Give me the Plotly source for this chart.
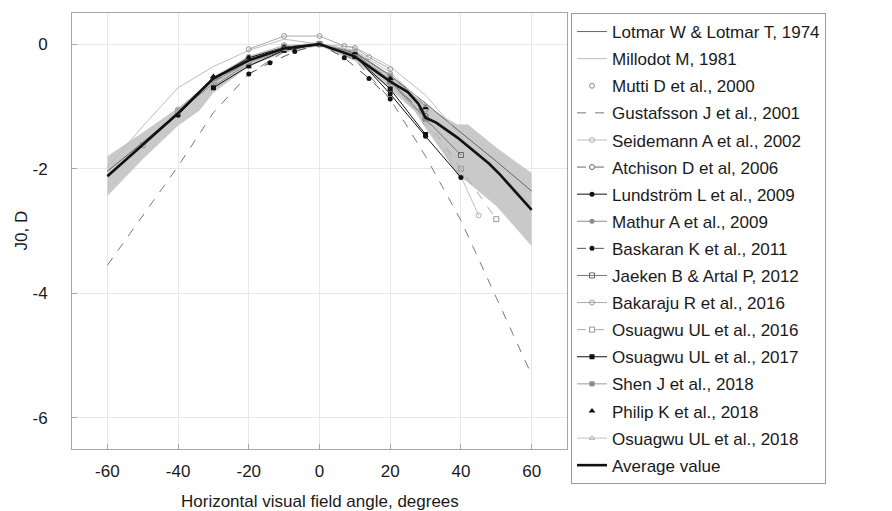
import plotly.graph_objects as go

# ---------------- data ----------------
band_x = [-60, -50, -40, -34, -30, -20, -10, 0, 10, 20, 27, 30, 35, 39, 42, 50, 60]
band_upper = [-1.80, -1.42, -1.02, -0.75, -0.52, -0.19, -0.02, 0.03, -0.14, -0.50, -0.86, -0.97, -1.16, -1.29, -1.29, -1.66, -2.07]
band_lower = [-2.44, -1.85, -1.31, -1.07, -0.78, -0.36, -0.14, -0.03, -0.27, -0.72, -1.08, -1.35, -1.75, -2.10, -2.22, -2.60, -3.24]

lotmar_x = [-60, -50, -40, -30, -20, -10, 0, 10, 20, 30, 40, 50, 60]
lotmar_y = [-2.04, -1.58, -1.10, -0.62, -0.27, -0.06, 0, -0.14, -0.50, -0.95, -1.42, -1.88, -2.36]

millodot_x = [-60, -50, -40, -30, -20, -10, 0, 10, 20, 30, 40, 50, 60]
millodot_y = [-1.98, -1.32, -0.70, -0.36, -0.10, 0.08, 0, -0.05, -0.36, -0.82, -1.48, -2.03, -2.57]

mutti_x = [-30, -20, -10, 0, 10, 20, 30]
mutti_y = [-0.58, -0.22, -0.02, 0, -0.12, -0.48, -1.05]

gustafsson_x = [-60, -50, -40, -30, -20, -10, 0, 10, 20, 30, 40, 50, 60]
gustafsson_y = [-3.55, -2.75, -1.96, -1.10, -0.48, -0.12, 0, -0.25, -0.88, -1.80, -2.83, -4.07, -5.31]

seidemann_x = [-40, -30, -20, -10, 0, 10, 20, 30, 40, 45]
seidemann_y = [-1.05, -0.55, -0.20, -0.02, 0, -0.20, -0.62, -1.26, -2.12, -2.75]

atchison_x = [-30, -20, -10, 0, 10, 20, 30]
atchison_y = [-0.60, -0.30, -0.08, 0, -0.18, -0.58, -1.15]

lundstrom_x = [-40, -30, -20, -10, 0, 10, 20, 30, 40]
lundstrom_y = [-1.14, -0.55, -0.22, -0.05, 0, -0.18, -0.80, -1.48, -2.14]

mathur_x = [-30, -20, -10, 0, 10, 20, 30]
mathur_y = [-0.68, -0.30, -0.10, 0, -0.12, -0.50, -1.00]

baskaran_x = [-20, -14, -7, 0, 7, 14, 20]
baskaran_y = [-0.48, -0.30, -0.12, 0, -0.22, -0.55, -0.88]

jaeken_x = [-40, -30, -20, -10, 0, 10, 20, 30, 40]
jaeken_y = [-1.08, -0.58, -0.25, -0.05, 0, -0.15, -0.60, -1.20, -1.78]

bakaraju_x = [-20, -10, 0, 7, 10, 14, 20]
bakaraju_y = [-0.08, 0.13, 0.13, -0.03, -0.06, -0.21, -0.40]

osuagwu16_x = [-50, -40, -30, -20, -10, 0, 10, 20, 30, 40, 50]
osuagwu16_y = [-1.62, -1.08, -0.60, -0.25, -0.05, 0, -0.18, -0.55, -1.20, -2.00, -2.81]

osuagwu17_x = [-30, -20, -10, 0, 10, 20, 30]
osuagwu17_y = [-0.70, -0.35, -0.10, 0, -0.20, -0.72, -1.45]

shen_x = [-30, -20, -10, 0, 10, 20, 30]
shen_y = [-0.62, -0.27, -0.06, 0, -0.16, -0.58, -1.19]

philip_x = [-30, -20, -10, 0, 10, 20, 30]
philip_y = [-0.52, -0.22, -0.05, 0, -0.14, -0.55, -1.02]

osuagwu18_x = [-40, -30, -20, -10, 0, 10, 20, 30]
osuagwu18_y = [-1.05, -0.62, -0.30, -0.08, 0, -0.10, -0.45, -0.98]

avg_x = [-60, -50, -40, -30, -20, -10, 0, 10, 20, 25, 28, 30, 33, 36, 39, 42, 45, 48, 51, 55, 60]
avg_y = [-2.12, -1.62, -1.11, -0.55, -0.26, -0.07, 0, -0.20, -0.60, -0.77, -0.96, -1.18, -1.26, -1.38, -1.50, -1.64, -1.78, -1.92, -2.09, -2.34, -2.66]

x_ticks = [-60, -40, -20, 0, 20, 40, 60]
y_ticks = [0, -2, -4, -6]

# ---------------- figure ----------------
FONT = "Liberation Sans, Arial, Helvetica, sans-serif"
fig = go.Figure()

fig.add_trace(go.Scatter(x=band_x, y=band_lower, mode="lines", line=dict(width=0),
                         showlegend=False, hoverinfo="skip"))
fig.add_trace(go.Scatter(x=band_x, y=band_upper, mode="lines", line=dict(width=0),
                         fill="tonexty", fillcolor="#c9c9c9", showlegend=False, hoverinfo="skip"))

series = [
    ("Lotmar W & Lotmar T, 1974", lotmar_x, lotmar_y, dict(mode="lines", line=dict(color="#666666", width=1))),
    ("Millodot M, 1981", millodot_x, millodot_y, dict(mode="lines", line=dict(color="#bdbdbd", width=1))),
    ("Mutti D et al., 2000", mutti_x, mutti_y, dict(mode="markers", marker=dict(symbol="circle-open", size=5, color="#888888", line=dict(width=1)))),
    ("Gustafsson J et al., 2001", gustafsson_x, gustafsson_y, dict(mode="lines", line=dict(color="#777777", width=1, dash="dash"))),
    ("Seidemann A et al., 2002", seidemann_x, seidemann_y, dict(mode="lines+markers", line=dict(color="#c0c0c0", width=1), marker=dict(symbol="circle-open", size=5, color="#b0b0b0", line=dict(width=1)))),
    ("Atchison D et al, 2006", atchison_x, atchison_y, dict(mode="lines+markers", line=dict(color="#666666", width=1, dash="dash"), marker=dict(symbol="circle-open", size=5, color="#666666", line=dict(width=1)))),
    ("Lundström L et al., 2009", lundstrom_x, lundstrom_y, dict(mode="lines+markers", line=dict(color="#111111", width=1), marker=dict(symbol="circle", size=5, color="#111111"))),
    ("Mathur A et al., 2009", mathur_x, mathur_y, dict(mode="lines+markers", line=dict(color="#8a8a8a", width=1), marker=dict(symbol="circle", size=5, color="#8a8a8a"))),
    ("Baskaran K et al., 2011", baskaran_x, baskaran_y, dict(mode="lines+markers", line=dict(color="#555555", width=1, dash="dash"), marker=dict(symbol="circle", size=5, color="#111111"))),
    ("Jaeken B & Artal P, 2012", jaeken_x, jaeken_y, dict(mode="lines+markers", line=dict(color="#777777", width=1), marker=dict(symbol="square-open", size=5, color="#666666", line=dict(width=1)))),
    ("Bakaraju R et al., 2016", bakaraju_x, bakaraju_y, dict(mode="lines+markers", line=dict(color="#aaaaaa", width=1), marker=dict(symbol="circle-open", size=5, color="#999999", line=dict(width=1)))),
    ("Osuagwu UL et al., 2016", osuagwu16_x, osuagwu16_y, dict(mode="lines+markers", line=dict(color="#aaaaaa", width=1, dash="dash"), marker=dict(symbol="square-open", size=5, color="#999999", line=dict(width=1)))),
    ("Osuagwu UL et al., 2017", osuagwu17_x, osuagwu17_y, dict(mode="lines+markers", line=dict(color="#111111", width=1), marker=dict(symbol="square", size=5, color="#111111"))),
    ("Shen J et al., 2018", shen_x, shen_y, dict(mode="lines+markers", line=dict(color="#999999", width=1), marker=dict(symbol="square", size=5, color="#8a8a8a"))),
    ("Philip K et al., 2018", philip_x, philip_y, dict(mode="markers", marker=dict(symbol="triangle-up", size=6, color="#111111"))),
    ("Osuagwu UL et al., 2018", osuagwu18_x, osuagwu18_y, dict(mode="lines+markers", line=dict(color="#c0c0c0", width=1), marker=dict(symbol="triangle-up-open", size=5, color="#b0b0b0", line=dict(width=1)))),
    ("Average value", avg_x, avg_y, dict(mode="lines", line=dict(color="#111111", width=2.6))),
]

for i, (name, xs, ys, style) in enumerate(series):
    fig.add_trace(go.Scatter(x=xs, y=ys, name=name, legendgroup=f"g{i}", **style))

# The page adds an 8 px body margin, so figure coords = target coords - 8.
# Target plot area: x 72..567, y 13..449  ->  figure x 64..559, y 5..441
M_L, M_R, M_T, M_B = 64, 892 - 559, 5, 20
gs_h = 511 - M_T - M_B
plot_h = 441 - M_T
plot_w = 559 - M_L
fig.update_layout(
    width=892, height=511,
    margin=dict(l=M_L, r=M_R, t=M_T, b=M_B, autoexpand=False),
    paper_bgcolor="white", plot_bgcolor="white",
    font=dict(family=FONT, size=17, color="#1a1a1a"),
    showlegend=True,
    legend=dict(
        x=(563 - M_L) / plot_w, xanchor="left", y=1.0, yanchor="top",
        traceorder="grouped", tracegroupgap=2,
        bordercolor="#9a9a9a", borderwidth=1, bgcolor="white",
        font=dict(family=FONT, size=17, color="#1a1a1a"),
        itemwidth=30,
    ),
)

fig.update_xaxes(
    range=[-70, 70], tickvals=x_ticks, ticktext=[str(v) for v in x_ticks],
    showgrid=True, gridcolor="#e8e8e8", gridwidth=1, zeroline=False,
    showline=True, linecolor="#a6a6a6", linewidth=1, mirror=True,
    ticks="inside", ticklen=5, tickcolor="#a6a6a6",
    ticklabelstandoff=7, automargin=False,
)
fig.update_yaxes(
    range=[-6.5, 0.5], tickvals=y_ticks, ticktext=[str(v) for v in y_ticks],
    domain=[1 - plot_h / gs_h, 1],
    showgrid=True, gridcolor="#e8e8e8", gridwidth=1, zeroline=False,
    showline=True, linecolor="#a6a6a6", linewidth=1, mirror=True,
    ticks="inside", ticklen=5, tickcolor="#a6a6a6",
    ticklabelstandoff=20, automargin=False,
)

fig.add_annotation(text="Horizontal visual field angle, degrees", xref="x domain", yref="y domain",
                   x=0.5, y=(441 - 493) / plot_h, xanchor="center", yanchor="middle", showarrow=False,
                   font=dict(family=FONT, size=17, color="#1a1a1a"))
fig.add_annotation(text="J0, D", xref="x domain", yref="y domain", textangle=-90,
                   x=(1 - M_L) / plot_w, y=0.5, xanchor="left", yanchor="middle", showarrow=False,
                   font=dict(family=FONT, size=17, color="#1a1a1a"))

fig.write_html("out.html")
